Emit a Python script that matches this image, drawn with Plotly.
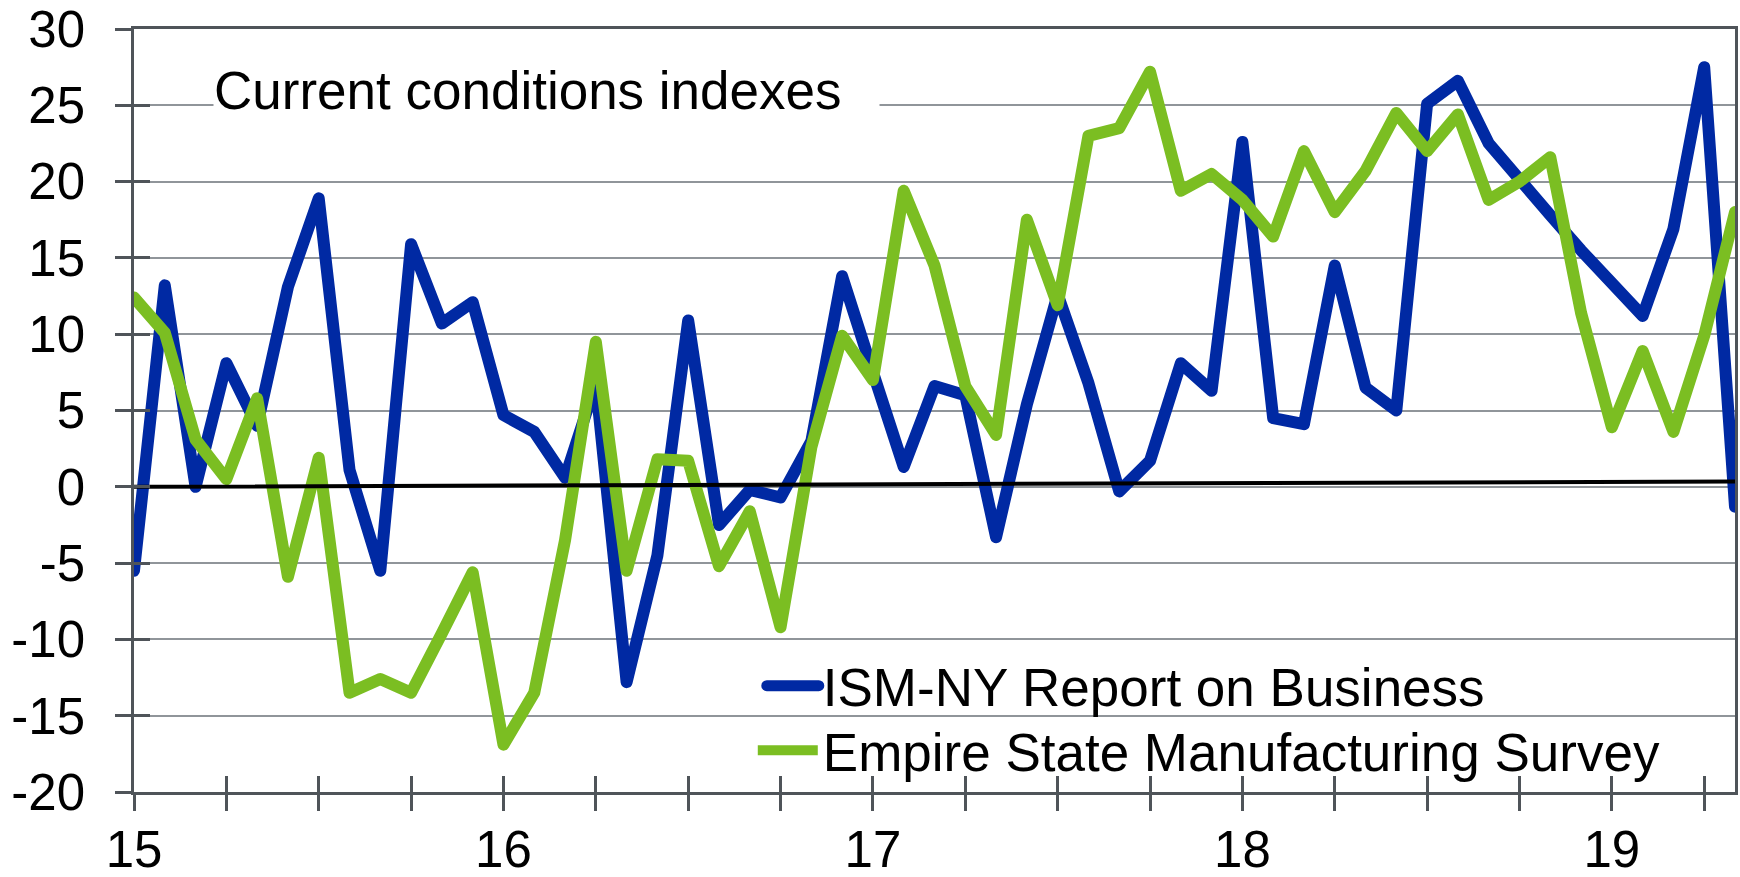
import plotly.graph_objects as go

# ---- data (monthly, Jan 2015 .. May 2019) ----
start_year = 15
n_months = 53
ism_ny = [-5.5, 13.2, 0.0, 8.1, 4.0, 13.1, 18.9, 1.1, -5.5, 15.9, 10.7, 12.1,
          4.7, 3.6, 0.6, 6.8, -12.8, -4.5, 10.9, -2.5, -0.2, -0.7, 3.0, 13.8,
          7.5, 1.3, 6.6, 6.0, -3.3, 5.4, 12.6, 6.8, -0.3, 1.7, 8.1, 6.3,
          22.6, 4.5, 4.1, 14.5, 6.5, 5.0, 25.1, 26.6, 22.5, 20.0, 17.8, 15.5,
          13.4, 11.2, 16.9, 27.5, -1.3]
empire = [12.4, 10.1, 3.1, 0.5, 5.8, -5.9, 1.9, -13.5, -12.6, -13.5, -9.6, -5.6,
          -16.9, -13.5, -3.5, 9.5, -5.5, 1.8, 1.7, -5.2, -1.6, -9.2, 2.6, 9.9,
          7.0, 19.4, 14.5, 6.6, 3.4, 17.5, 11.9, 23.0, 23.5, 27.2, 19.4, 20.5,
          18.8, 16.4, 22.0, 18.0, 20.7, 24.5, 22.0, 24.4, 18.8, 20.0, 21.6, 11.4,
          3.9, 8.9, 3.6, 9.9, 18.0]
zero_line_x = [15, 19 + 4 / 12]
zero_line_y = [0, 0.35]

x_tickvals = [15, 15.25, 15.5, 15.75, 16, 16.25, 16.5, 16.75, 17, 17.25, 17.5, 17.75,
              18, 18.25, 18.5, 18.75, 19, 19.25]
x_ticktext = ["15", "", "", "", "16", "", "", "", "17", "", "", "",
              "18", "", "", "", "19", ""]
y_tickvals = [-20, -15, -10, -5, 0, 5, 10, 15, 20, 25, 30]
y_ticktext = ["-20", "-15", "-10", "-5", "0", "5", "10", "15", "20", "25", "30"]

series_names = ["ISM-NY Report on Business", "Empire State Manufacturing Survey"]
title_text = "Current conditions indexes"

months = [start_year + i / 12 for i in range(n_months)]

BLUE = "#0029A3"
GREEN = "#7BBE22"
AXIS = "#4f5459"
GRID = "#90959a"
FONT = "Liberation Sans, Arial, sans-serif"

fig = go.Figure()
fig.add_trace(go.Scatter(x=months, y=ism_ny, mode="lines", name=series_names[0],
                         line=dict(color=BLUE, width=12), hoverinfo="skip",
                         legend="legend"))
fig.add_trace(go.Scatter(x=months, y=empire, mode="lines", name=series_names[1],
                         line=dict(color=GREEN, width=12), hoverinfo="skip",
                         legend="legend2"))
fig.add_trace(go.Scatter(x=zero_line_x, y=zero_line_y, mode="lines", showlegend=False,
                         line=dict(color="black", width=4), hoverinfo="skip",
                         xaxis="x2", yaxis="y2"))

xr = [15, 19 + 4 / 12]
yr = [-20, 30]
legend_common = dict(xanchor="left", yanchor="bottom", bgcolor="rgba(0,0,0,0)",
                     font=dict(size=53, family=FONT, color="black"),
                     borderwidth=0, itemwidth=60)
fig.update_layout(
    width=1740, height=877,
    margin=dict(l=134, r=5, t=29, b=85, pad=0, autoexpand=False),
    paper_bgcolor="white", plot_bgcolor="white",
    font=dict(family=FONT, color="black", size=51),
    showlegend=True,
    legend=dict(x=0.3865, y=0.0855, **legend_common),
    legend2=dict(x=0.3865, y=0.0008, **legend_common),
    xaxis=dict(range=xr, tickmode="array", tickvals=x_tickvals, ticktext=x_ticktext,
               showgrid=False, zeroline=False, showline=True, mirror=True,
               linecolor=AXIS, linewidth=2.5, ticks="outside", ticklen=16,
               tickwidth=2.5, tickcolor=AXIS, tickfont=dict(size=51),
               ticklabelstandoff=-5),
    yaxis=dict(range=yr, tickmode="array", tickvals=y_tickvals, ticktext=y_ticktext,
               showgrid=True, gridcolor=GRID, gridwidth=2.2, zeroline=False,
               showline=True, mirror=True, linecolor=AXIS, linewidth=2.5,
               ticks="outside", ticklen=16, tickwidth=2.5, tickcolor=AXIS,
               tickfont=dict(size=51), ticklabelstandoff=20),
    xaxis2=dict(range=xr, overlaying="x", anchor="y2", side="bottom",
                tickmode="array", tickvals=x_tickvals, showticklabels=False,
                showgrid=False, zeroline=False, showline=False,
                ticks="inside", ticklen=16, tickwidth=2.5, tickcolor=AXIS),
    yaxis2=dict(range=yr, overlaying="y", anchor="x2", side="left",
                tickmode="array", tickvals=y_tickvals, showticklabels=False,
                showgrid=False, zeroline=False, showline=False,
                ticks="inside", ticklen=16, tickwidth=2.5, tickcolor=AXIS),
    annotations=[dict(text=title_text, xref="paper", yref="y", x=0.0496, y=26.0,
                      xanchor="left", yanchor="middle", showarrow=False,
                      bgcolor="white", width=665, align="left", borderpad=0,
                      font=dict(size=53, family=FONT, color="black"))],
    shapes=[dict(type="rect", xref="paper", yref="y", x0=0.3616, x1=0.9879,
                 y0=-17, y1=-12, fillcolor="white", line=dict(width=0),
                 layer="between")],
)

post = """
document.body.style.margin='0';
document.body.style.overflow='hidden';
document.querySelectorAll('.scatterlayer path.js-line').forEach(function(p){
  p.style.strokeLinejoin='round'; p.style.strokeLinecap='round';
});
document.querySelectorAll('g.traces').forEach(function(g){
  var t = g.querySelector('text.legendtext');
  var p = g.querySelector('g.legendlines path');
  if(!t || !p) return;
  var tx = parseFloat(t.getAttribute('x')) || 0;
  p.setAttribute('d', 'M' + (tx - 56) + ',0h52');
  p.style.strokeWidth = '11px';
  p.style.strokeLinecap = 'round';
});
"""
fig.write_html("out.html", post_script=post, config={"displayModeBar": False})
